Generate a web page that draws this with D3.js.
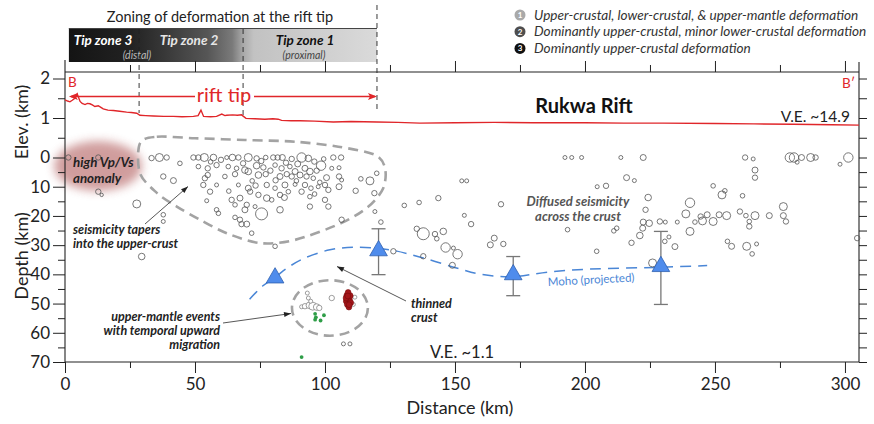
<!DOCTYPE html>
<html><head><meta charset="utf-8">
<script src="https://cdn.jsdelivr.net/npm/d3@7"></script>
<style>
body{margin:0;background:#fff;}
svg{display:block;font-family:Lato,"Open Sans",sans-serif;}
</style></head><body>
<svg id="c" width="874" height="424"></svg>
<script>
// ---------------- DATA ----------------
const distTicks = [0, 50, 100, 150, 200, 250, 300];
const distMinor = [25, 75, 125, 175, 225, 275];
const depthTicks = [0, 10, 20, 30, 40, 50, 60, 70];
const depthMinor = [5, 15, 25, 35, 45, 55, 65];
const elevTicks = [1, 2];
const elevMinor = [0.5, 1.5];

// topographic profile B-B' : [distance km, elevation km]
const elevProfile = [[0,1.46],[1.0,1.43],[1.9,1.41],[2.8,1.45],[3.8,1.5],[4.7,1.61],[5.8,1.42],[6.6,1.37],[7.7,1.34],[8.6,1.37],[9.6,1.36],[10.5,1.33],[11.5,1.29],[12.8,1.31],[13.8,1.27],[14.7,1.23],[16.5,1.2],[18.6,1.19],[21,1.17],[23.7,1.15],[25.5,1.14],[27.6,1.12],[28.8,1.07],[31,1.06],[34,1.05],[38,1.04],[41.7,1.04],[45,1.03],[49.4,1.04],[51.2,1.06],[52.3,1.2],[53.3,1.04],[56,1.03],[58.3,1.04],[60.3,1.1],[61.5,1.06],[62.2,1.07],[64.5,1.08],[66.3,1.07],[67.9,1.08],[69.6,0.99],[73,0.98],[76.9,0.97],[80,0.98],[82,0.97],[83.3,0.94],[87,0.93],[90.4,0.93],[96,0.92],[103.2,0.9],[110,0.91],[120,0.9],[128,0.89],[136.5,0.87],[150,0.88],[165,0.89],[180,0.88],[200,0.88],[215,0.87],[230,0.87],[250,0.86],[265,0.85],[280,0.84],[295,0.83],[305.4,0.82]];

// crustal earthquakes: [distance km, depth km, magnitude]
const crustalEvents = [
[51.3,0,1.7],[53.6,0,3],[57.1,0,2.3],[62.2,0,1],[64.4,0,2.3],[66.7,0,1.7],[70.5,0,3],[73.7,0.3,1.7],[77.2,0,1.3],[80.1,0,1.7],[81.8,0,1.7],[83.6,0,2],[87.2,0.5,1.7],[91,0,3.7],[93.6,0.3,2.3],[95.9,1.4,1.7],[98.5,2.8,3.7],[103.2,0,1.7],[106.2,0,1.7],
[51.3,3.1,1.3],[54.9,3.7,1.7],[58.3,2.6,1.7],[62.8,3.1,1.3],[66,3.7,1.3],[69.2,4.3,2.3],[73.7,2.8,2.3],[76.3,3.4,1.7],[80.8,2.6,1.3],[83.3,3.7,1.7],[86.5,3.1,1.3],[88.5,4.8,2],[92.3,3.7,2],[94.2,4.8,2.3],[102.6,3.7,1],[105.4,3.5,1],
[53.8,7.1,1.7],[54.9,6,1.7],[61.5,6.5,1.3],[65.4,5.7,1.7],[70.5,4.8,2.3],[74.4,6,2.3],[77.2,5.7,1.7],[82.7,6.5,2],[85.3,5.7,1.7],[87.2,6.5,1.7],[90.4,6,2],[92.9,6.5,1.7],[95.5,7.1,1.3],[100.6,6.9,2],[105.4,6.5,1.7],
[53.2,9.4,1.7],[58.3,9.4,1],[66.7,9.4,1],[70.5,10.5,2],[73.3,9.6,1.7],[77.6,9.4,1.7],[80.8,10.5,1.3],[84.6,9.4,2],[88.5,9.2,1],[92.3,9.4,1.7],[94.6,10.5,1.3],[97.4,10,1],[100,9.4,1.7],[101.3,11.1,1.7],[105.4,10,2],
[55.8,11.7,1.7],[64.1,14.5,1.7],[65.4,16.2,1.3],[67.3,13.9,2],[71.2,11.7,1.7],[74.4,12.8,1.7],[77.6,13.9,2.3],[79.5,14.5,1.3],[82.7,12.8,1.7],[84.4,13.7,2],[85.9,11.7,1.3],[91,11.7,1.7],[94.2,13.4,1.3],[100,14.5,1.7],
[54.5,14.8,1],[58.3,17.9,1.3],[59,19.1,1.3],[69.9,16.2,1.7],[69.2,17.9,2],[73.1,16.8,1],[75.6,19.3,5],[82.7,17.9,2.3],[94.2,16.8,1.7],[101.3,16.8,1.7],
[65.4,20.5,1.3],[67.3,21.3,1.7],[67.9,22.8,1.7],[69.9,22.8,2],[106.4,21.3,1.7],[71.8,25.9,1.3],[80.8,30.4,1.3],
[56,1.5,1.3],[60,0.8,1.7],[68.5,2,1.7],[75.5,1.2,1.7],[79,4.5,1.7],[85,1.8,1.7],[89.5,2.2,2],[96.8,4.5,1.7],[99.5,0.5,1.3],[72,8,1.3],[81,7.8,1.7],[89,8,1.3],[98,8.5,1.3],[63,11.5,1.3],[96,12.5,1.3],
[1.3,0,1.7],[12.8,0,1.7],[12.8,11.7,1.7],[14.1,12.8,0.7],[27.6,15.9,3],[37.8,19.6,1.3],[37.8,21.9,1],[29.5,33.9,2.3],[33.3,0.2,1.7],[36.3,0,3],[39.1,0,1.7],[44.2,2,1.3],[37.8,6.5,1.7],[41.7,7.9,2],[49.4,0,1.7],
[106.4,7.7,1],[113.8,7.3,1.3],[117.3,8,3],[119.9,5.4,1.3],[111.8,11.4,1.7],[119,12.2,1.7],[119.2,18.5,1],[121.5,22.1,1.3],[130.5,16.4,1.3],[136.2,15.4,1.3],[143.6,13.9,1.7],[152.6,8,1],[154.5,8,1],[153.6,19.8,1],[156.2,22.8,1.7],[167.7,16,1.7],[192.3,0,1],[194.9,0,1],[198.7,0,1],[193.3,24.7,1.3],[135.3,24.4,1.7],[137.8,26.1,5],[142.3,26.2,1.7],[143,27.8,1.3],[145.5,25.3,2.3],[146.4,30.8,3.7],[149.4,31,1],[151,33.1,3.7],[149,36.9,2],[137.8,33.8,1.7],[126.3,32.1,1.7],[165.1,27.6,2],[163.6,29.9,2],[168.6,29.6,1.7],[107.1,63.8,1],[109.6,63.8,1],
[213.8,0,1],[222.4,0,2],[216,6.9,2],[219,7.9,1],[204.7,10,1],[208.1,9.7,1.7],[224.3,13.7,2.3],[223.3,17.9,1.7],[222.4,22.1,2],[224.7,22.5,2.3],[222.2,24.2,2],[221.1,26.7,2.3],[211.1,25.1,1.3],[212.2,24.2,1.3],[217.9,29.2,1.7],[204.5,32.1,1.3],[228.8,21.9,1.7],[230.9,22.1,1],[235.5,22.1,1],[230.7,28.7,1.3],[232.3,27.2,1],[234.6,30.5,2],[240.4,15.5,3.7],[238.8,19.3,3],[240.4,25.3,3],[242.3,22.1,1.3],[244.5,20.2,1.7],[245.2,21.7,3],[247,19.6,2],[249.3,21.9,3],[249.3,9.7,1.3],[252.7,12.8,3],[253.8,11.4,1.3],[251.6,19.6,2],[254.5,19.9,3],[260.6,13.1,1.3],[259.6,18.5,1.7],[261.9,19.9,1.3],[263.2,21.9,1.3],[263.2,23.6,1.7],[265.4,19.9,3],[270.9,19.9,2],[276.3,16.8,3],[276.3,19.9,2],[277.3,21.9,1.7],[254.8,28.7,1.3],[256.4,30.4,2],[262.2,30.4,3],[264.3,33,1.3],[266,29.6,1],[261.6,0,1.7],[264.7,0.5,1],[265.4,4.3,2],[265.4,6.9,1.7],[278.8,0,3.7],[280.4,0,3.7],[281.6,1.6,1],[283.3,0,2],[286.8,0,3],[288.7,0,1.7],[298.1,2.3,1],[301.3,0,3.7],[304.7,27.6,1.7],[226,36.1,3]
];
// upper-mantle events
const mantleEvents = [[91,51.1,1],[92.3,50.9,1.7],[94,50.6,2.3],[95.3,50.9,3],[96.8,51.2,2.3],[97.8,51.5,1.7],[93.6,48.1,1],[94.5,49.2,1],[93.2,46.4,1],[102.6,48.1,1.7],[111.5,47.8,1],[110.9,50.3,1]];
const redEvents = [[108.4,47.2],[109,48.1],[108.2,49.2],[109.4,48.6],[108.6,50.3],[109.9,49.7],[109.2,51.2],[109.7,47.3],[108.9,46.2],[108.1,48.1],[108.8,47.4],[109.3,50.4]];
const greenEvents = [[96.2,53.5],[96.5,54.7],[96.2,55.5],[98.3,55.8],[99.6,54],[91,68.3]];

// Moho
const mohoPoints = [[80.8,41.2],[120.6,31.9],[172.4,40.1],[229.2,37.3]];
const mohoErrors = [null,[24.4,40.1],[33.9,47.3],[25.3,50.3]];
const mohoLine = [[71,48.5],[76,44],[80.5,41.2],[86,37.5],[92,34.5],[101.9,31.6],[112,30.7],[125,31.6],[137.8,34.4],[150.6,37.8],[160,40],[172,40.8],[186,39.2],[202,38.2],[228,37.6],[247,37]];

// outline of upper-crustal seismicity cluster & mantle cluster
const crustOutline = [[28.8,-4.8],[35.3,-7.1],[50,-6.6],[69.2,-6],[88.5,-5.4],[105.1,-3.7],[119.2,-0.9],[123.1,3.7],[122.4,10.5],[116.7,16.8],[106.4,22.4],[88.5,28.2],[75,29.3],[62.2,25.9],[51.9,21.3],[43,16.8],[35.3,12.1],[28.8,5.3]];
const mantleOutline = {cx:101.9, cy:51.5, rx:14.6, ry:9.5};

// zones
const zoneBounds = [1.5, 28.5, 68.5, 120];
const zoneNames = ["Tip zone 3","Tip zone 2","Tip zone 1"];
const legendItems = ["Upper-crustal, lower-crustal, & upper-mantle deformation","Dominantly upper-crustal, minor lower-crustal deformation","Dominantly upper-crustal deformation"];
const legendColors = ["#a9a9a9","#4e4e4e","#111111"];

// ---------------- CHART ----------------
const svg = d3.select("#c");
const x = d3.scaleLinear().domain([0, 305.4]).range([65, 859]);
const yD = d3.scaleLinear().domain([0, 70]).range([157.5, 362]);
const yE = d3.scaleLinear().domain([0, 2]).range([157.5, 78.5]);
const rS = d3.scaleLinear().domain([1, 5]).range([2, 6]);

const defs = svg.append("defs");
const blur = defs.append("filter").attr("id","blur").attr("x","-50%").attr("y","-50%").attr("width","200%").attr("height","200%");
blur.append("feGaussianBlur").attr("stdDeviation",5);
const grad = defs.append("linearGradient").attr("id","zg").attr("x1","0").attr("x2","1").attr("y1","0").attr("y2","0");
[[0,"#141414"],[0.2,"#222"],[0.3,"#363636"],[0.45,"#565656"],[0.53,"#7a7a7a"],[0.565,"#a8a8a8"],[0.6,"#c2c2c2"],[1,"#dadada"]]
 .forEach(s=>grad.append("stop").attr("offset",s[0]).attr("stop-color",s[1]));

// Title & zone bar
svg.append("text").attr("x",220).attr("y",22).attr("text-anchor","middle").attr("font-size",14.5).attr("fill","#222").text("Zoning of deformation at the rift tip");
svg.append("rect").attr("x",x(zoneBounds[0])).attr("y",28).attr("width",x(zoneBounds[3])-x(zoneBounds[0])).attr("height",34).attr("fill","url(#zg)");
svg.append("line").attr("x1",x(zoneBounds[0])).attr("x2",x(zoneBounds[3])).attr("y1",28.5).attr("y2",28.5).attr("stroke","#444").attr("stroke-width",1);
const zt = svg.append("g").attr("font-weight","bold").attr("font-style","italic").attr("font-size",13.5);
zt.append("text").attr("x",103).attr("y",45).attr("text-anchor","middle").attr("fill","#fff").text(zoneNames[0]);
zt.append("text").attr("x",189).attr("y",45).attr("text-anchor","middle").attr("fill","#e6e6e6").text(zoneNames[1]);
zt.append("text").attr("x",305).attr("y",45).attr("text-anchor","middle").attr("fill","#111").text(zoneNames[2]);
svg.append("text").attr("x",137).attr("y",59).attr("text-anchor","middle").attr("font-style","italic").attr("font-size",10.5).attr("fill","#bbb").text("(distal)");
svg.append("text").attr("x",304).attr("y",59).attr("text-anchor","middle").attr("font-style","italic").attr("font-size",10.5).attr("fill","#444").text("(proximal)");

// dashed zone dividers
svg.append("line").attr("x1",x(zoneBounds[1])).attr("x2",x(zoneBounds[1])).attr("y1",29).attr("y2",113).attr("stroke","#222").attr("stroke-dasharray","5,4").attr("stroke-width",0.9);
svg.append("line").attr("x1",x(zoneBounds[2])).attr("x2",x(zoneBounds[2])).attr("y1",29).attr("y2",118).attr("stroke","#222").attr("stroke-dasharray","5,4").attr("stroke-width",0.9);
svg.append("line").attr("x1",x(zoneBounds[3])).attr("x2",x(zoneBounds[3])).attr("y1",5).attr("y2",113).attr("stroke","#222").attr("stroke-dasharray","5,4").attr("stroke-width",0.9);

// legend
const lg = svg.append("g");
legendItems.forEach((t,i)=>{
  const yy = 15 + i*16.7;
  lg.append("circle").attr("cx",520).attr("cy",yy).attr("r",5.5).attr("fill",legendColors[i]);
  lg.append("text").attr("x",520).attr("y",yy+3).attr("text-anchor","middle").attr("font-size",8).attr("font-weight","bold").attr("fill","#fff").text(i+1);
  lg.append("text").attr("x",534).attr("y",yy+4.5).attr("font-size",13.6).attr("font-style","italic").attr("fill","#333").text(t);
});

// high Vp/Vs anomaly blob
svg.append("ellipse").attr("cx",x(12.7)).attr("cy",yD(2.9)).attr("rx",44).attr("ry",25).attr("fill","#b86a6a").attr("opacity",0.65).attr("filter","url(#blur)");

// frame
const fr = svg.append("g").attr("stroke","#222").attr("stroke-width",1.1).attr("fill","none");
fr.append("line").attr("x1",65).attr("x2",65).attr("y1",60).attr("y2",362);
fr.append("line").attr("x1",859).attr("x2",859).attr("y1",62).attr("y2",362);
fr.append("line").attr("x1",65).attr("x2",859).attr("y1",72).attr("y2",72);
fr.append("line").attr("x1",65).attr("x2",859).attr("y1",362).attr("y2",362);

// bottom axis
const bx = svg.append("g").attr("transform","translate(0,362)")
  .call(d3.axisBottom(x).tickValues(distTicks).tickSize(11).tickPadding(5).tickFormat(d3.format("d")));
bx.select(".domain").remove();
bx.selectAll("text").attr("font-size",17).attr("fill","#222").attr("font-family","Lato, sans-serif");
bx.selectAll("line").attr("stroke","#222");
const bxm = svg.append("g").attr("transform","translate(0,362)").call(d3.axisBottom(x).tickValues(distMinor).tickSize(6).tickFormat(""));
bxm.select(".domain").remove(); bxm.selectAll("line").attr("stroke","#222");
// top axis ticks
const tx = svg.append("g").attr("transform","translate(0,72)").call(d3.axisTop(x).tickValues(distTicks.slice(1)).tickSize(11).tickFormat(""));
tx.select(".domain").remove(); tx.selectAll("line").attr("stroke","#222");
const txm = svg.append("g").attr("transform","translate(0,72)").call(d3.axisTop(x).tickValues(distMinor).tickSize(7).tickFormat(""));
txm.select(".domain").remove(); txm.selectAll("line").attr("stroke","#222");

// left axis: depth
const ly = svg.append("g").attr("transform","translate(65,0)").call(d3.axisLeft(yD).tickValues(depthTicks).tickSize(12).tickPadding(3).tickFormat(d3.format("d")));
ly.select(".domain").remove();
ly.selectAll("text").attr("font-size",17).attr("fill","#222").attr("font-family","Lato, sans-serif");
ly.selectAll("line").attr("stroke","#222");
const lym = svg.append("g").attr("transform","translate(65,0)").call(d3.axisLeft(yD).tickValues(depthMinor).tickSize(7).tickFormat(""));
lym.select(".domain").remove(); lym.selectAll("line").attr("stroke","#222");
// left axis: elevation
const le = svg.append("g").attr("transform","translate(65,0)").call(d3.axisLeft(yE).tickValues(elevTicks).tickSize(12).tickPadding(3).tickFormat(d3.format("d")));
le.select(".domain").remove();
le.selectAll("text").attr("font-size",17).attr("fill","#222").attr("font-family","Lato, sans-serif");
le.selectAll("line").attr("stroke","#222");
const lem = svg.append("g").attr("transform","translate(65,0)").call(d3.axisLeft(yE).tickValues(elevMinor).tickSize(7).tickFormat(""));
lem.select(".domain").remove(); lem.selectAll("line").attr("stroke","#222");
// right axis ticks
const ry = svg.append("g").attr("transform","translate(859,0)").call(d3.axisRight(yD).tickValues(depthTicks.concat(depthMinor)).tickSize(8).tickFormat(""));
ry.select(".domain").remove(); ry.selectAll("line").attr("stroke","#222");
const re = svg.append("g").attr("transform","translate(859,0)").call(d3.axisRight(yE).tickValues(elevTicks.concat(elevMinor)).tickSize(8).tickFormat(""));
re.select(".domain").remove(); re.selectAll("line").attr("stroke","#222");

// axis titles
svg.append("text").attr("transform","translate(28,122) rotate(-90)").attr("text-anchor","middle").attr("font-size",18).attr("fill","#222").text("Elev. (km)");
svg.append("text").attr("transform","translate(28,256) rotate(-90)").attr("text-anchor","middle").attr("font-size",18).attr("fill","#222").text("Depth (km)");
svg.append("text").attr("x",460).attr("y",414).attr("text-anchor","middle").attr("font-size",18).attr("fill","#222").text("Distance (km)");

// elevation profile
svg.append("path").datum(elevProfile).attr("fill","none").attr("stroke","#e0262a").attr("stroke-width",1.4)
  .attr("d",d3.line().x(d=>x(d[0])).y(d=>yE(d[1])));
svg.append("text").attr("x",68).attr("y",87).attr("font-size",13.5).attr("fill","#e0262a").text("B");
svg.append("text").attr("x",842).attr("y",88).attr("font-size",13.5).attr("fill","#e0262a").text("B\u2032");
// rift tip arrow
const red = "#e0262a";
svg.append("line").attr("x1",x(1.5)+2).attr("x2",195).attr("y1",96.5).attr("y2",96.5).attr("stroke",red).attr("stroke-width",1.3);
svg.append("line").attr("x1",254).attr("x2",x(120)-2).attr("y1",96.5).attr("y2",96.5).attr("stroke",red).attr("stroke-width",1.3);
svg.append("path").attr("d",`M${x(1.5)},96.5 l9,-3.5 l-2,3.5 l2,3.5 z`).attr("fill",red);
svg.append("path").attr("d",`M${x(120)},96.5 l-9,-3.5 l2,3.5 l-2,3.5 z`).attr("fill",red);
svg.append("text").attr("x",224).attr("y",102).attr("text-anchor","middle").attr("font-size",20).attr("fill",red).text("rift tip");
svg.append("text").attr("x",584).attr("y",113).attr("text-anchor","middle").attr("font-size",20).attr("font-weight","bold").attr("fill","#111").text("Rukwa Rift");
svg.append("text").attr("x",850).attr("y",122).attr("text-anchor","end").attr("font-size",15.5).attr("fill","#222").text("V.E. ~14.9");

// dashed outlines
svg.append("path").datum(crustOutline).attr("fill","none").attr("stroke","#a3a3a3").attr("stroke-width",2.6).attr("stroke-dasharray","10,6")
  .attr("d",d3.line().curve(d3.curveCardinalClosed.tension(0.1)).x(d=>x(d[0])).y(d=>yD(d[1])));
svg.append("ellipse").attr("cx",x(mantleOutline.cx)).attr("cy",yD(mantleOutline.cy))
  .attr("rx",x(mantleOutline.rx)-x(0)).attr("ry",yD(mantleOutline.ry)-yD(0))
  .attr("fill","none").attr("stroke","#a3a3a3").attr("stroke-width",2.6).attr("stroke-dasharray","10,6");

// Moho
const blue = "#4a86d6";
svg.append("path").datum(mohoLine).attr("fill","none").attr("stroke",blue).attr("stroke-width",1.5).attr("stroke-dasharray","11,7")
  .attr("d",d3.line().curve(d3.curveCatmullRom).x(d=>x(d[0])).y(d=>yD(d[1])));
svg.append("text").attr("transform","translate(548,286) rotate(-3)").attr("font-size",11.5).attr("fill",blue).text("Moho (projected)");

// crustal events
svg.append("g").selectAll("circle").data(crustalEvents).join("circle")
  .attr("cx",d=>x(d[0])).attr("cy",d=>yD(d[1])).attr("r",d=>rS(d[2]))
  .attr("fill","none").attr("stroke","#555").attr("stroke-width",0.8);
// mantle events
svg.append("g").selectAll("circle").data(greenEvents).join("circle")
  .attr("cx",d=>x(d[0])).attr("cy",d=>yD(d[1])).attr("r",1.9).attr("fill","#2f9e48");
svg.append("g").selectAll("circle").data(mantleEvents).join("circle")
  .attr("cx",d=>x(d[0])).attr("cy",d=>yD(d[1])).attr("r",d=>rS(d[2]))
  .attr("fill","#fff").attr("stroke","#777").attr("stroke-width",0.7);
svg.append("g").selectAll("circle").data(redEvents).join("circle")
  .attr("cx",d=>x(d[0])).attr("cy",d=>yD(d[1])).attr("r",2.9)
  .attr("fill","#a3161a").attr("stroke","#7a0c0e").attr("stroke-width",0.6);

// Moho triangles & error bars
const eb = svg.append("g").attr("stroke","#777").attr("stroke-width",1.3);
mohoPoints.forEach((p,i)=>{
  const e = mohoErrors[i]; if(!e) return;
  const cx = x(p[0]);
  eb.append("line").attr("x1",cx).attr("x2",cx).attr("y1",yD(e[0])).attr("y2",yD(e[1]));
  eb.append("line").attr("x1",cx-7).attr("x2",cx+7).attr("y1",yD(e[0])).attr("y2",yD(e[0]));
  eb.append("line").attr("x1",cx-7).attr("x2",cx+7).attr("y1",yD(e[1])).attr("y2",yD(e[1]));
});
svg.append("g").selectAll("path").data(mohoPoints).join("path")
  .attr("transform",d=>`translate(${x(d[0])},${yD(d[1])})`)
  .attr("d",d3.symbol(d3.symbolTriangle).size(135))
  .attr("fill","#4f8cec").attr("stroke","#2f5fae").attr("stroke-width",0.8);

// annotations
function multi(g, xx, y0, lines, lead, anchor){
  const t = g.append("text").attr("x",xx).attr("y",y0).attr("text-anchor",anchor||"start");
  lines.forEach((s,i)=>t.append("tspan").attr("x",xx).attr("dy",i?lead:0).text(s));
}
const annA = svg.append("g").attr("font-style","italic").attr("font-weight","bold").attr("font-size",13.3).attr("fill","#222");
multi(annA, 73, 167, ["high Vp/Vs","anomaly"], 16);
const ann = svg.append("g").attr("font-style","italic").attr("font-weight","bold").attr("font-size",12.5).attr("fill","#222");
multi(ann, 73, 234, ["seismicity tapers","into the upper-crust"], 13.6);
multi(ann, 411, 308, ["thinned","crust"], 13.6);
multi(ann, 220, 321, ["upper-mantle events","with temporal upward","migration"], 14, "end");
const ann2 = svg.append("g").attr("font-style","italic").attr("font-weight","bold").attr("font-size",13).attr("fill","#555");
multi(ann2, 578, 206, ["Diffused seismicity","across the crust"], 14.6, "middle");
svg.append("text").attr("x",430).attr("y",358).attr("font-size",16.5).attr("fill","#222").text("V.E. ~1.1");

// arrows
function arrow(x1,y1,x2,y2){
  svg.append("line").attr("x1",x1).attr("y1",y1).attr("x2",x2).attr("y2",y2).attr("stroke","#444").attr("stroke-width",0.9);
  const a = Math.atan2(y2-y1,x2-x1), L=7, w=2.6;
  const p1=[x2-L*Math.cos(a)+w*Math.sin(a), y2-L*Math.sin(a)-w*Math.cos(a)];
  const p2=[x2-L*Math.cos(a)-w*Math.sin(a), y2-L*Math.sin(a)+w*Math.cos(a)];
  svg.append("path").attr("d",`M${x2},${y2}L${p1}L${p2}Z`).attr("fill","#222");
}
arrow(145,224,188,186.5);
arrow(406,301,337,266.5);
arrow(223,323,291,313.5);
</script>
</body></html>
